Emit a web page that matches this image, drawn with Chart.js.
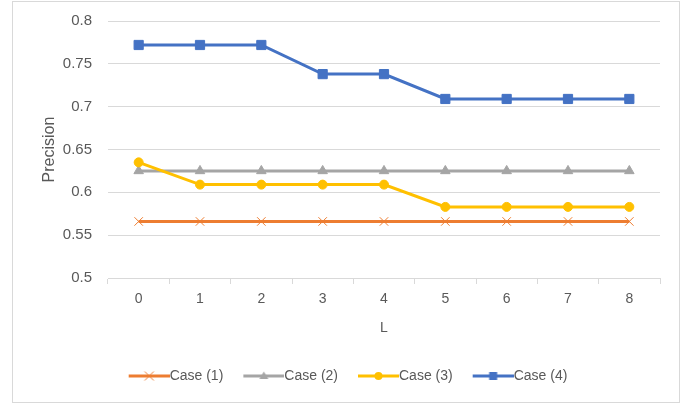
<!DOCTYPE html>
<html>
<head>
<meta charset="utf-8">
<script src="https://cdn.jsdelivr.net/npm/chart.js@4/dist/chart.umd.min.js"></script>
<style>
  html, body { margin: 0; padding: 0; background: #fff; }
  #wrap { position: relative; width: 686px; height: 405px; }
  #frame {
    position: absolute; left: 12px; top: 1px; width: 668px; height: 402px;
    box-sizing: border-box; border: 1px solid #d9d9d9; pointer-events: none;
  }
</style>
</head>
<body>
<div id="wrap">
  <canvas id="precChart" width="686" height="405"></canvas>
  <div id="frame"></div>
</div>
<script>
// valeurs
const L_VALUES = ['0', '1', '2', '3', '4', '5', '6', '7', '8'];
const CASE_1 = [0.566, 0.566, 0.566, 0.566, 0.566, 0.566, 0.566, 0.566, 0.566];
const CASE_2 = [0.625, 0.625, 0.625, 0.625, 0.625, 0.625, 0.625, 0.625, 0.625];
const CASE_3 = [0.635, 0.609, 0.609, 0.609, 0.609, 0.583, 0.583, 0.583, 0.583];
const CASE_4 = [0.772, 0.772, 0.772, 0.738, 0.738, 0.709, 0.709, 0.709, 0.709];
const LABELS = ['Case (1)', 'Case (2)', 'Case (3)', 'Case (4)'];
const Y_MIN = 0.5, Y_MAX = 0.8, Y_STEP = 0.05;

const COLORS = ['#ed7d31', '#a5a5a5', '#ffc000', '#4472c4'];
const TEXT = '#595959';
const GRID = '#d9d9d9';
const FONT = "'Liberation Sans', Arial, sans-serif";

// petite icone de légende : trait + marqueur (style Excel)
const BOX_W = 54;
function legendIcon(color, style) {
    const c = document.createElement('canvas');
    c.width = BOX_W + 14;
    c.height = 14;
    const g = c.getContext('2d');
    const x0 = c.width - 41, cx = x0 + 20.5, cy = 7;
    g.strokeStyle = color;
    g.fillStyle = color;
    g.lineWidth = 3;
    g.beginPath();
    g.moveTo(x0, cy);
    g.lineTo(c.width, cy);
    g.stroke();
    g.lineWidth = 1;
    g.beginPath();
    if (style === 'crossRot') {
        g.moveTo(cx - 4.5, cy - 4.5); g.lineTo(cx + 4.5, cy + 4.5);
        g.moveTo(cx + 4.5, cy - 4.5); g.lineTo(cx - 4.5, cy + 4.5);
        g.stroke();
    } else if (style === 'triangle') {
        g.moveTo(cx, cy - 4.5); g.lineTo(cx + 4.5, cy + 3); g.lineTo(cx - 4.5, cy + 3);
        g.closePath(); g.fill();
    } else if (style === 'circle') {
        g.arc(cx, cy, 4, 0, Math.PI * 2); g.fill();
    } else {
        g.rect(cx - 4, cy - 4, 8, 8); g.fill();
    }
    return c;
}

const series = [CASE_1, CASE_2, CASE_3, CASE_4];
const styles = ['crossRot', 'triangle', 'circle', 'rect'];
const radii = [6, 5.5, 4.5, 6.5];

const datasets = series.map((vals, i) => ({
    label: LABELS[i],
    data: vals,
    borderColor: COLORS[i],
    backgroundColor: COLORS[i],
    borderWidth: 3,
    pointStyle: styles[i],
    pointRadius: radii[i],
    pointBorderWidth: 1,
    pointBorderColor: COLORS[i],
    pointBackgroundColor: COLORS[i],
    tension: 0,
    order: 3 - i // la dernière série passe au-dessus
}));

new Chart(document.getElementById('precChart'), {
    type: 'line',
    data: { labels: L_VALUES, datasets: datasets },
    options: {
        responsive: false,
        animation: false,
        events: [],
        layout: { padding: { left: 16, right: 26, top: 21, bottom: 12 } },
        scales: {
            x: {
                offset: true,
                grid: { display: true, drawOnChartArea: false, drawTicks: true, tickLength: 6, color: GRID, offset: true },
                border: { display: true, color: GRID },
                ticks: { color: TEXT, padding: 7, font: { family: FONT, size: 14 } },
                title: { display: true, text: 'L', color: TEXT, font: { family: FONT, size: 14 }, padding: { top: 0, bottom: 32.6 } },
                afterFit: (scale) => { scale.height = 91; }
            },
            y: {
                min: Y_MIN,
                max: Y_MAX,
                // traits de graduation invisibles : ils servent d'écart entre étiquettes et zone
                grid: { color: GRID, drawTicks: true, tickLength: 12, tickColor: 'rgba(0,0,0,0)' },
                border: { display: false },
                ticks: {
                    stepSize: Y_STEP,
                    color: TEXT,
                    padding: 4,
                    font: { family: FONT, size: 15 },
                    callback: (v) => String(+v.toFixed(2))
                },
                title: { display: true, text: 'Precision', color: TEXT, font: { family: FONT, size: 16 }, padding: { top: 24, bottom: 0 } },
                afterFit: (scale) => { scale.width = 92; }
            }
        },
        plugins: {
            tooltip: { enabled: false },
            legend: {
                position: 'bottom',
                labels: {
                    usePointStyle: true,
                    pointStyleWidth: BOX_W,
                    padding: 0,
                    color: TEXT,
                    font: { family: FONT, size: 14 },
                    generateLabels: (chart) => chart.data.datasets.map((ds, i) => ({
                        text: ds.label,
                        fontColor: TEXT,
                        pointStyle: legendIcon(COLORS[i], styles[i]),
                        fillStyle: COLORS[i],
                        strokeStyle: COLORS[i],
                        lineWidth: 0,
                        hidden: false,
                        datasetIndex: i
                    }))
                }
            }
        }
    }
});
</script>
</body>
</html>
